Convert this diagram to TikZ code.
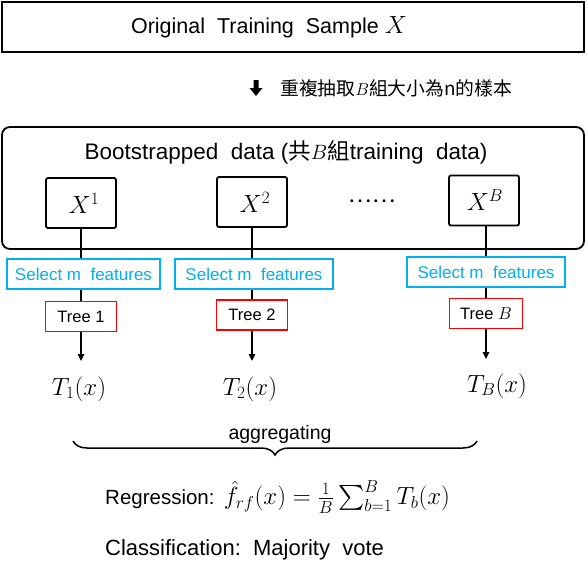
\documentclass[tikz,border=0pt]{standalone}
\usepackage{amsmath}
\usepackage{fontspec}
\setmainfont{Liberation Sans}
\newfontfamily\cjk{Noto Sans CJK TC}
\usetikzlibrary{decorations.pathreplacing,arrows.meta}
\definecolor{cyanbox}{RGB}{0,176,240}
\definecolor{redbox}{RGB}{255,0,0}
\tikzset{
  bigbox/.style={draw=black, line width=1.8pt, inner sep=0pt},
  xbox/.style={draw=black, line width=1.8pt, rounded corners=2pt, minimum width=70pt, minimum height=50pt, inner sep=0pt, font=\fontsize{25}{30}\selectfont},
  selbox/.style={draw=cyanbox, text=cyanbox, line width=1.5pt, minimum height=30pt, inner sep=0pt, font=\fontsize{17}{20}\selectfont},
  treebox/.style={draw=redbox, line width=1.6pt, minimum width=71pt, minimum height=30pt, inner sep=0pt, font=\fontsize{16.5}{20}\selectfont},
  conn/.style={draw=black, line width=1.2pt},
  arr/.style={conn, -{Triangle[length=7pt,width=6.5pt]}},
  tlabel/.style={inner sep=0pt, font=\fontsize{26}{30}\selectfont},
}
\begin{document}
\begin{tikzpicture}[x=1pt,y=-1pt]
\useasboundingbox (0,0) rectangle (587,581);
% top box
\node[bigbox, minimum width=582pt, minimum height=50pt] (top) at (293,27) {};
\node[inner sep=0pt, font=\fontsize{21.5}{25}\selectfont] (toptext) at (269,27) {Original\ \ Training\ \ Sample {\fontsize{23}{27}\selectfont$X$}};
% block arrow
\fill[black] (253.5,80) -- (258.5,80) -- (258.5,88) -- (262.5,88) -- (256,96) -- (249.5,88) -- (253.5,88) -- cycle;
\node[inner sep=0pt, anchor=west, font=\fontsize{18.8}{22}\selectfont\cjk] (sample) at (280,88) {重複抽取$B$組大小為n的樣本};
% big rounded box
\node[bigbox, rounded corners=8pt, minimum width=582pt, minimum height=122pt] (boot) at (293,188) {};
\node[inner sep=0pt, font=\fontsize{22.5}{26}\selectfont] (boottitle) at (286,152) {Bootstrapped\ \ data ({\cjk 共}$B${\cjk 組}training\ \ data)};
% X boxes
\node[xbox] (x1) at (81,203) {\hspace{6pt}$X^1$};
\node[xbox] (x2) at (252,202) {\hspace{6pt}$X^2$};
\node[xbox] (xb) at (484,200.5) {\hspace{2pt}$X^B$};
\node[inner sep=0pt, font=\fontsize{22}{26}\selectfont\cjk] (dots) at (372,201) {……};
% select boxes
\node[selbox, minimum width=153pt] (s1) at (83.5,274) {Select m\ \ features};
\node[selbox, minimum width=158pt] (s2) at (254,274) {Select m\ \ features};
\node[selbox, minimum width=158pt] (s3) at (486,272) {Select m\ \ features};
% tree boxes
\node[treebox] (t1) at (81,316.5) {Tree 1};
\node[treebox] (t2) at (252,315) {Tree 2};
\node[treebox, minimum width=73pt] (tb) at (486,313.5) {Tree {\fontsize{18}{20}\selectfont$B$}};
% outputs
\node[tlabel] (o1) at (79,389) {$T_1(x)$};
\node[tlabel] (o2) at (250,389) {$T_2(x)$};
\node[tlabel] (ob) at (497,386) {$T_B(x)$};
\coordinate (e1) at (81,361);
\coordinate (e2) at (252,361);
\coordinate (eb) at (486,359);
% connectors
\draw[conn] (x1.south) -- (s1.north -| x1.south);
\draw[conn] (s1.south -| x1.south) -- (t1.north);
\draw[arr] (t1.south) -- (e1);
\draw[conn] (x2.south) -- (s2.north -| x2.south);
\draw[conn] (s2.south -| x2.south) -- (t2.north);
\draw[arr] (t2.south) -- (e2);
\draw[conn] (xb.south -| s3.north) -- (s3.north);
\draw[conn] (s3.south) -- (tb.north);
\draw[arr] (tb.south) -- (eb);
% brace
\coordinate (bl) at (73,441);
\coordinate (br) at (477,441);
\draw[line width=1.5pt, decorate, decoration={brace, mirror, amplitude=14pt}] (bl) -- (br);
\node[inner sep=0pt, font=\fontsize{19.5}{23}\selectfont] (agg) at (280,434) {aggregating};
% formulas
\node[inner sep=0pt, anchor=west, font=\fontsize{20.5}{24}\selectfont] (reg) at (105,497) {Regression:\hspace{0.45em}{\fontsize{23}{27}\selectfont$\hat f_{rf}(x)=\frac{1}{B}\sum_{b=1}^{B}T_b(x)$}};
\node[inner sep=0pt, anchor=west, font=\fontsize{22}{26}\selectfont] (cls) at (105,550) {Classification:\ \ Majority\ \ vote};
\end{tikzpicture}
\end{document}
